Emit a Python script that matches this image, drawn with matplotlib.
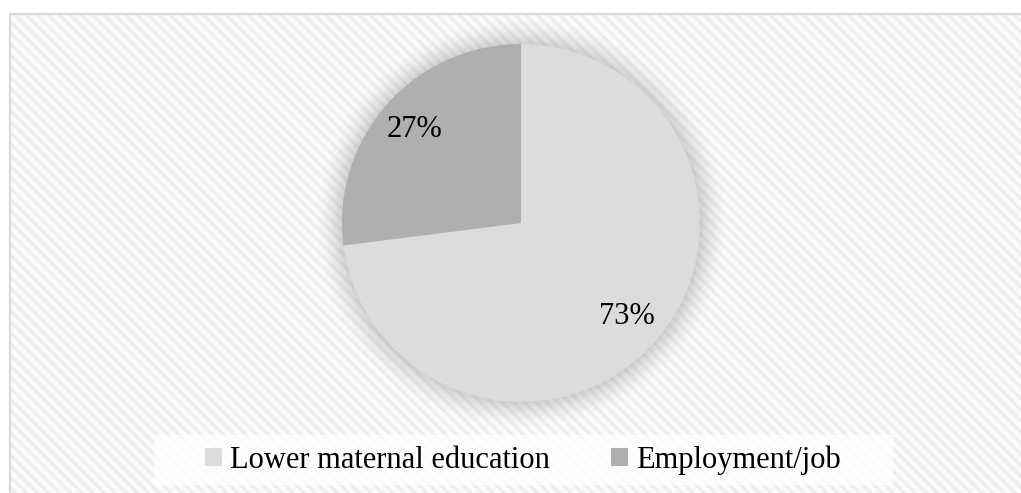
"""Pie chart: reasons (lower maternal education vs employment/job)."""
import numpy as np
import matplotlib
matplotlib.use("Agg")
import matplotlib.pyplot as plt
from matplotlib.patches import Rectangle

CATEGORIES = ["Lower maternal education", "Employment/job"]
SHARES = [73, 27]
COLORS = ["#dcdcdc", "#afafaf"]

W, H = 1021, 493
plt.rcParams["font.family"] = ["Liberation Serif", "DejaVu Serif"]
plt.rcParams["hatch.linewidth"] = 2.2

fig = plt.figure(figsize=(W / 100, H / 100), dpi=100)
ax = fig.add_axes([0, 0, 1, 1])

# chart area: faint diagonal stripes + light grey border on left/top
ax.add_patch(Rectangle((10, -40), W + 60, H - 14 + 40, facecolor="#fbfbfb",
                       edgecolor="#eeeeee", hatch="\\\\\\", linewidth=0, zorder=0))
ax.add_patch(Rectangle((10, -40), W + 60, H - 14 + 40, facecolor="none",
                       edgecolor="#d9d9d9", linewidth=1.6, zorder=1))

cx, cy, r = 521, H - 223, 179

# soft glow behind the pie
glow = 28
R = r + glow
yy, xx = np.mgrid[-R:R + 1, -R:R + 1]
d = np.hypot(xx, yy)
t = np.clip((d - r) / glow, 0, 1)
alpha = np.where(d >= r - 2, 0.28 * (1 - t) ** 1.6, 0.28)
img = np.zeros(d.shape + (4,))
img[..., :3] = 0.4
img[..., 3] = alpha
ax.imshow(img, extent=(cx - R, cx + R, cy - R, cy + R), origin="lower",
          interpolation="bilinear", zorder=2)

wedges, _, autotexts = ax.pie(
    SHARES, colors=COLORS, startangle=90, counterclock=False,
    center=(cx, cy), radius=r, autopct="%1.0f%%", pctdistance=0.79,
    wedgeprops=dict(linewidth=0), textprops=dict(fontsize=22, color="black"),
)
for w in wedges:
    w.set_zorder(3)
for t_ in autotexts:
    t_.set_zorder(4)

ax.set_xlim(0, W)
ax.set_ylim(0, H)
ax.set_aspect("auto")
ax.axis("off")

# legend panel
ax.add_patch(Rectangle((154, H - 485), 739, 50, facecolor="white",
                       edgecolor="none", alpha=0.75, zorder=3))
fig.legend(wedges, CATEGORIES, loc="center", bbox_to_anchor=(523 / W, (H - 460) / H),
           ncol=2, frameon=False, fontsize=22, handlelength=0.55, handleheight=0.55,
           handletextpad=0.28, columnspacing=2.0)

fig.savefig("out.png", dpi=100)
